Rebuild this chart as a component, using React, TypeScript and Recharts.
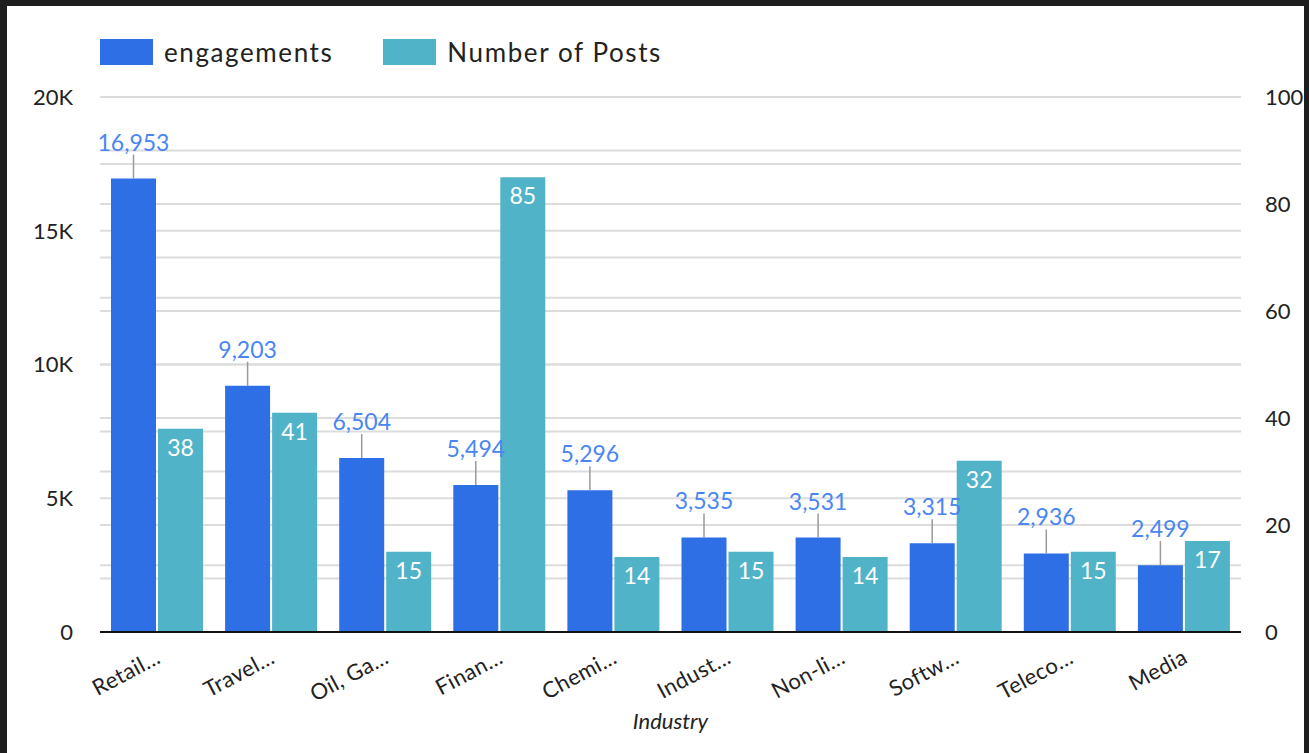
import { BarChart, Bar, XAxis, YAxis, CartesianGrid, Legend, LabelList } from 'recharts';

const industries = ['Retail...', 'Travel...', 'Oil, Ga...', 'Finan...', 'Chemi...', 'Indust...', 'Non-li...', 'Softw...', 'Teleco...', 'Media'];
const engagements = [16953, 9203, 6504, 5494, 5296, 3535, 3531, 3315, 2936, 2499];
const posts = [38, 41, 15, 85, 14, 15, 14, 32, 15, 17];
const leftTicks = [0, 2500, 5000, 7500, 10000, 12500, 15000, 17500, 20000];
const rightTicks = [0, 10, 20, 30, 40, 50, 60, 70, 80, 90, 100];
const seriesOrder = ['engagements', 'posts'];

const data = industries.map((industry, i) => ({
  industry,
  engagements: engagements[i],
  posts: posts[i],
}));

const BLUE = '#2f6fe6';
const TEAL = '#51b3c8';
const FONT = 'Lato, sans-serif';

const EngLabel = (props: any) => {
  const { x, y, width, value } = props;
  const cx = x + width / 2;
  return (
    <g>
      <line x1={cx} x2={cx} y1={y - 24} y2={y} stroke="#9a9a9a" strokeWidth={1.5} />
      <text x={cx} y={y - 28} textAnchor="middle" fill="#4a86f2" fontSize={23} fontFamily={FONT}>
        {Number(value).toLocaleString('en-US')}
      </text>
    </g>
  );
};

const PostLabel = (props: any) => {
  const { x, y, width, value } = props;
  return (
    <text x={x + width / 2} y={y + 27} textAnchor="middle" fill="#ffffff" fontSize={23} fontFamily={FONT}>
      {value}
    </text>
  );
};

const IndustryTick = ({ x, y, payload }: any) => (
  <text
    transform={`translate(${x + 5},${y + 22}) rotate(-28)`}
    textAnchor="end"
    fontSize={22}
    letterSpacing={0.4}
    fill="#222"
    fontFamily={FONT}
  >
    {payload.value}
  </text>
);

const LegendContent = ({ payload }: any) => {
  const items = [...(payload || [])].sort(
    (a: any, b: any) => seriesOrder.indexOf(a.dataKey) - seriesOrder.indexOf(b.dataKey)
  );
  return (
    <div style={{ display: 'flex', alignItems: 'center', gap: 50, fontFamily: FONT }}>
      {items.map((p: any) => (
        <div key={p.value} style={{ display: 'flex', alignItems: 'center' }}>
          <span style={{ display: 'inline-block', width: 53, height: 26, background: p.color, marginRight: 11 }} />
          <span style={{ fontSize: 26, letterSpacing: 1.6, color: '#222' }}>{p.value}</span>
        </div>
      ))}
    </div>
  );
};

export default function App() {
  return (
    <div style={{ position: 'fixed', top: 0, left: 0, width: 1309, height: 753, background: '#1e1e1e' }}>
      <div style={{ position: 'absolute', left: 7, top: 6, width: 1297, height: 747, background: '#fff' }}>
        <BarChart
          width={1297}
          height={747}
          data={data}
          margin={{ top: 91, right: 0, left: 0, bottom: 0 }}
          barCategoryGap={11}
          barGap={2}
        >
          <CartesianGrid yAxisId="left" vertical={false} stroke="#dcdcdc" strokeWidth={2} />
          <CartesianGrid yAxisId="right" vertical={false} stroke="#dcdcdc" strokeWidth={2} />
          <XAxis
            dataKey="industry"
            height={121}
            interval={0}
            tickLine={false}
            axisLine={{ stroke: '#111', strokeWidth: 2 }}
            tick={<IndustryTick />}
            label={{ value: 'Industry', position: 'insideBottom', offset: 24, fontSize: 22, fontStyle: 'italic', fill: '#222', fontFamily: FONT }}
          />
          <YAxis
            yAxisId="left"
            width={93}
            domain={[0, 20000]}
            ticks={leftTicks}
            interval={0}
            axisLine={false}
            tickLine={false}
            tickMargin={21}
            tick={{ fontSize: 22, fill: '#222', fontFamily: FONT }}
            tickFormatter={(v: number) => (v === 0 ? '0' : v % 5000 === 0 ? `${v / 1000}K` : '')}
          />
          <YAxis
            yAxisId="right"
            orientation="right"
            width={63}
            domain={[0, 100]}
            ticks={rightTicks}
            interval={0}
            axisLine={false}
            tickLine={false}
            tickMargin={18}
            tick={{ fontSize: 22, fill: '#222', fontFamily: FONT, textAnchor: 'start' }}
            tickFormatter={(v: number) => (v % 20 === 0 ? String(v) : '')}
          />
          <Legend
            layout="horizontal"
            verticalAlign="middle"
            align="center"
            wrapperStyle={{ top: 30, left: 93, width: 'auto' }}
            content={<LegendContent />}
          />
          <Bar yAxisId="left" dataKey="engagements" name="engagements" fill={BLUE} isAnimationActive={false}>
            <LabelList dataKey="engagements" content={<EngLabel />} />
          </Bar>
          <Bar yAxisId="right" dataKey="posts" name="Number of Posts" fill={TEAL} isAnimationActive={false}>
            <LabelList dataKey="posts" content={<PostLabel />} />
          </Bar>
        </BarChart>
      </div>
    </div>
  );
}
